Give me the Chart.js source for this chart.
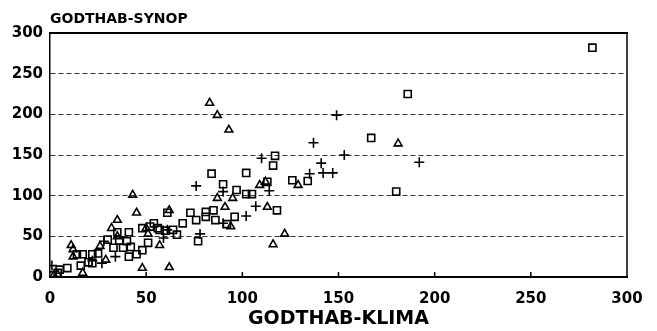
<!DOCTYPE html>
<html>
<head>
<meta charset="utf-8">
<script src="https://cdn.jsdelivr.net/npm/chart.js@4/dist/chart.umd.min.js"></script>
<style>
  html, body { margin: 0; padding: 0; background: #fff; }
  canvas { display: block; }
</style>
</head>
<body>
<canvas id="c" width="657" height="331"></canvas>
<script>
const yTitle = 'GODTHAB-SYNOP';
const xTitle = 'GODTHAB-KLIMA';
const tickValues = [0, 50, 100, 150, 200, 250, 300];

// Squares
const squareX = [282,186,167,180,117,116,84,102,90,97,102,105,113,126,134,118,81,81,85,86,96,92,77,73,76,69,64,66,61,60,57,56,54,52,48,51,48,45,41,35,41,30,36,40,33,38,42,25,22,17,14,20,22,16,9,5,4,1];
const squareY = [282,225,171,105,149,137,127,128,114,107,102,102,117,119,118,82,80,74,82,70,74,65,44,79,70,66,58,52,79,57,58,60,66,62,60,42,33,28,25,55,55,46,45,44,36,36,37,29,28,28,28,18,17,14,11,9,5,2];

// Triangles
const triX = [83,87,93,181,129,109,112,87,95,91,113,94,116,122,43,45,62,35,32,50,51,57,26,29,11,12,12,17,48,62,35,2,4];
const triY = [214,199,181,164,113,113,117,97,97,86,86,62,40,53,101,79,82,70,60,60,53,39,38,21,39,34,25,5,11,12,50,2,3];

// Plus signs
const plusX = [149,137,153,110,192,141,142,147,135,76,90,114,107,102,90,78,61,59,34,27,1,28,22];
const plusY = [199,165,150,146,141,140,128,128,127,112,105,106,87,75,66,53,58,48,25,17,14,44,20];

const toPts = (xs, ys) => xs.map((x, i) => ({ x, y: ys[i] }));

const frame = {
  id: 'frame',
  afterDraw(chart) {
    const { ctx, chartArea: a, scales: { x } } = chart;
    ctx.save();
    ctx.strokeStyle = '#000';
    ctx.setLineDash([]);
    ctx.lineWidth = 2;
    ctx.beginPath(); ctx.moveTo(a.left, a.top); ctx.lineTo(a.right + 1, a.top); ctx.stroke();
    ctx.lineWidth = 1.5;
    ctx.beginPath(); ctx.moveTo(a.right, a.top); ctx.lineTo(a.right, a.bottom); ctx.stroke();
    tickValues.slice(1, -1).forEach(v => {
      const px = x.getPixelForValue(v);
      ctx.beginPath(); ctx.moveTo(px, a.bottom); ctx.lineTo(px, a.bottom - 5); ctx.stroke();
    });
    ctx.fillStyle = '#000';
    ctx.font = 'bold 14px "DejaVu Sans"';
    ctx.textAlign = 'left';
    ctx.textBaseline = 'alphabetic';
    ctx.fillText(yTitle, a.left, 23);
    ctx.restore();
  }
};

const tickFont = { family: '"DejaVu Sans"', size: 15, weight: 'bold' };

new Chart(document.getElementById('c'), {
  type: 'scatter',
  data: {
    datasets: [
      { label: 'rect', data: toPts(squareX, squareY), pointStyle: 'rect', pointRadius: 5, borderColor: '#000', backgroundColor: 'rgba(0,0,0,0)', borderWidth: 1.6 },
      { label: 'tri', data: toPts(triX, triY), pointStyle: 'triangle', pointRadius: 4.5, borderColor: '#000', backgroundColor: 'rgba(0,0,0,0)', borderWidth: 1.6 },
      { label: 'plus', data: toPts(plusX, plusY), pointStyle: 'cross', pointRadius: 5, borderColor: '#000', backgroundColor: 'rgba(0,0,0,0)', borderWidth: 1.6 }
    ]
  },
  options: {
    responsive: false,
    animation: false,
    layout: { padding: { top: 33, right: 30, left: 0, bottom: 0 } },
    plugins: { legend: { display: false }, tooltip: { enabled: false } },
    scales: {
      x: {
        type: 'linear', min: 0, max: 300,
        afterBuildTicks: s => { s.ticks = tickValues.map(v => ({ value: v })); },
        afterFit: s => { s.height = 54; },
        grid: { display: false, drawTicks: false },
        border: { display: true, color: '#000', width: 2 },
        ticks: { color: '#000', font: tickFont, padding: 13, maxRotation: 0 },
        title: { display: true, text: xTitle, color: '#000', font: { family: '"DejaVu Sans"', size: 19, weight: 'bold' }, padding: { top: 0, bottom: 1 } }
      },
      y: {
        type: 'linear', min: 0, max: 300,
        afterBuildTicks: s => { s.ticks = tickValues.map(v => ({ value: v })); },
        afterFit: s => { s.width = 50; },
        grid: {
          drawTicks: false,
          lineWidth: 1,
          color: c => (c.tick && (c.tick.value === 0 || c.tick.value === 300)) ? 'rgba(0,0,0,0)' : '#333'
        },
        border: { display: true, color: '#000', width: 1.5, dash: [5, 3] },
        ticks: { color: '#000', font: tickFont, padding: 7 }
      }
    }
  },
  plugins: [frame]
});
</script>
</body>
</html>
